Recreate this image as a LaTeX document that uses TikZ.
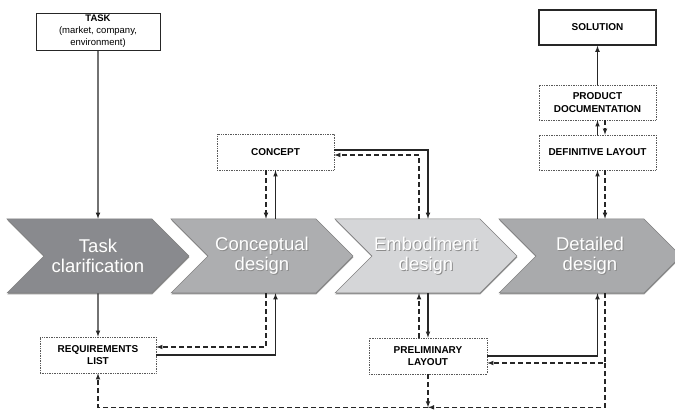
\documentclass[tikz,border=0pt]{standalone}
\usepackage{fontspec}
\setmainfont{Liberation Sans}
\usetikzlibrary{calc,shapes.symbols,shadows}

\definecolor{phaseA}{HTML}{898A8E}
\definecolor{phaseB}{HTML}{ADAEB0}
\definecolor{phaseC}{HTML}{D5D6D8}
\definecolor{phaseD}{HTML}{A9AAAC}
\newcommand{\softshade}[1]{\makebox[0pt][l]{\raisebox{-.9pt}{\hspace{.9pt}\textcolor{black!45}{#1}}}#1}

\tikzset{
  phase/.style={signal,signal from=west,signal to=east,signal pointer angle=90,
    minimum width=182pt,minimum height=74pt,inner sep=0pt,draw=black!50,line width=.5pt,
    text=white,align=center,font=\fontsize{18.5}{20}\selectfont,
    drop shadow={shadow xshift=.4pt,shadow yshift=-1.3pt,fill=black!70,opacity=.6}},
  docbox/.style={draw=black!65,densely dotted,line width=.7pt,fill=white,
    minimum width=117pt,minimum height=36pt,inner sep=1pt,align=center,
    font=\fontsize{10}{12.5}\selectfont\bfseries},
  endbox/.style={draw=black!85,fill=white,align=center,inner sep=1pt},
  flow/.style={draw=black!85,line width=1.1pt,-latex},
  back/.style={flow,dash pattern=on 5pt off 3pt},
}

\begin{document}
\begin{tikzpicture}[x=1pt,y=-1pt]
  \useasboundingbox (0,0) rectangle (675,414);
  % phases
  \node[phase,fill=phaseA] (tc) at (98,256) {\softshade{Task}\\\softshade{clarification}};
  \node[phase,fill=phaseB] (cd) at (262,256) {\softshade{Conceptual}\\\softshade{design}};
  \node[phase,fill=phaseC] (ed) at (426,256) {\softshade{Embodiment}\\\softshade{design}};
  \node[phase,fill=phaseD] (dd) at (590,256) {\softshade{Detailed}\\\softshade{design}};
  % results
  \node[endbox,line width=.9pt,minimum width=124pt,minimum height=37pt,font=\fontsize{9.5}{12}\selectfont] (task) at (98,31.5)
    {\textbf{TASK}\\(market, company,\\environment)};
  \node[endbox,line width=1.4pt,minimum width=117pt,minimum height=35pt,font=\fontsize{10}{12}\selectfont\bfseries] (sol) at (597.5,27.5) {SOLUTION};
  \node[docbox,minimum width=116pt] (req) at (98,355) {REQUIREMENTS\\LIST};
  \node[docbox] (con) at (275.5,152) {CONCEPT};
  \node[docbox,minimum width=118pt] (pre) at (428,356) {PRELIMINARY\\LAYOUT};
  \node[docbox,minimum height=35pt] (doc) at (597.5,102.5) {PRODUCT\\DOCUMENTATION};
  \node[docbox,minimum height=35pt] (def) at (597.5,152.5) {DEFINITIVE LAYOUT};
  \path ([xshift=-9.5pt]con.south) coordinate (conL)
        ([xshift=-9pt]pre.north) coordinate (preL)
        ([xshift=7.5pt]def.south) coordinate (defR)
        ([xshift=7.5pt]doc.south) coordinate (docR)
        ([yshift=-33pt]pre.south) coordinate (low);
  % task clarification
  \draw[flow] (task) -- (tc);
  \draw[flow] (tc) -- (req);
  % conceptual design
  \draw[back] (conL) -- (conL |- cd.north);
  \draw[flow] (cd.north -| con.south) -- (con.south);
  \draw[back] (cd.south -| conL) |- ([yshift=8pt]req.east);
  \draw[flow] (req.east) -| (cd.south -| con.south);
  % embodiment design
  \draw[flow] ([yshift=2pt]con.east) -| (ed.north -| pre.north);
  \draw[back] (ed.north -| preL) |- ([yshift=-3pt]con.east);
  \draw[flow] (ed.south -| pre.north) -- (pre.north);
  \draw[back] (preL) -- (preL |- ed.south);
  % detailed design
  \draw[flow] (pre.east) -| (dd.south -| def.south);
  \draw[back] (dd.south -| defR) |- ([yshift=-7pt]pre.east);
  \draw[back] ([yshift=-7pt]pre.east -| defR) |- (low);
  \draw[back] (pre.south) -- (low);
  \draw[back] (low) -| (req.south);
  \draw[flow] (dd.north -| def.south) -- (def.south);
  \draw[back] (defR) -- (defR |- dd.north);
  \draw[flow] (def.north) -- (doc.south);
  \draw[back] (docR) -- (docR |- def.north);
  \draw[flow] (doc) -- (sol);
\end{tikzpicture}
\end{document}
